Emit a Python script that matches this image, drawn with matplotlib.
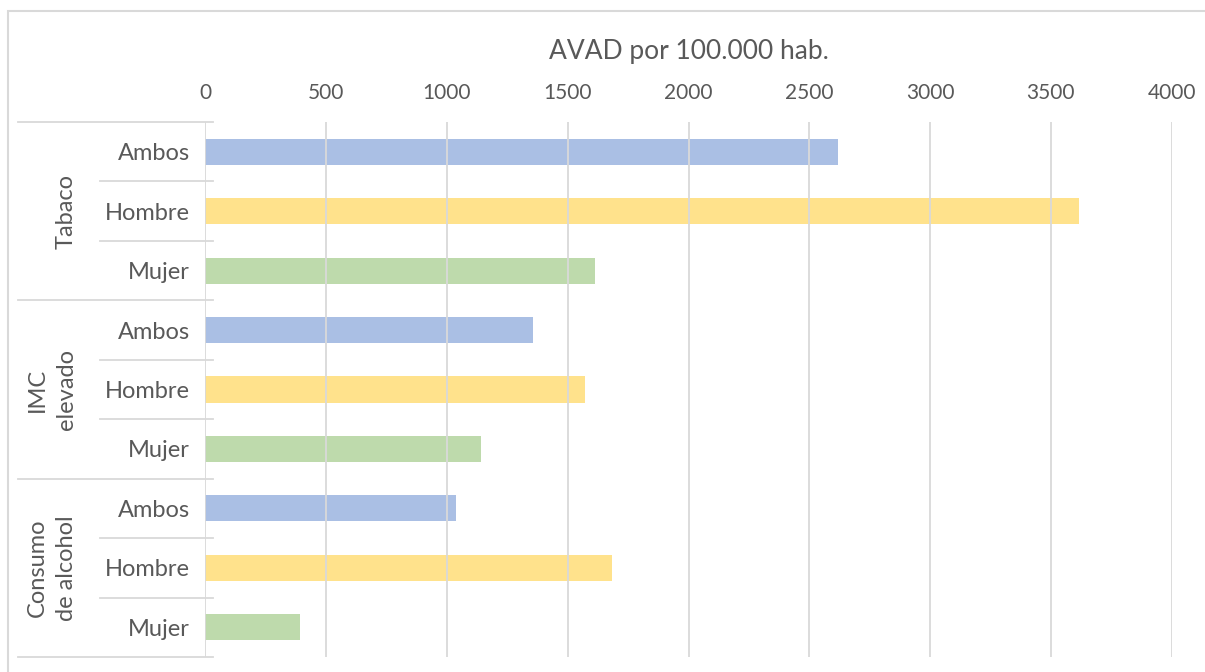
import matplotlib
matplotlib.use("Agg")
import matplotlib.pyplot as plt
import matplotlib.transforms as mtransforms
from matplotlib.lines import Line2D
from matplotlib.patches import Rectangle

plt.rcParams['font.family'] = ['Lato', 'DejaVu Sans']

groups = ["Tabaco", "IMC\nelevado", "Consumo\nde alcohol"]
sexes = ["Ambos", "Hombre", "Mujer"]
values = {
    "Tabaco": [2619, 3618, 1612],
    "IMC\nelevado": [1355, 1570, 1143],
    "Consumo\nde alcohol": [1038, 1683, 393],
}
colors = ["#4472C4", "#FFC000", "#70AD47"]
xticks = [0, 500, 1000, 1500, 2000, 2500, 3000, 3500, 4000]
xlabel = "AVAD por 100.000 hab."

W, H = 1205, 672
fig = plt.figure(figsize=(W / 100, H / 100), dpi=100)
left, right, top, bottom = 205.3, 1171.7, 122, 657
ax = fig.add_axes([left / W, 1 - bottom / H, (right - left) / W, (bottom - top) / H])

txt = "#595959"
grid = "#D9D9D9"

pos = 0
ylabels = []
for g in groups:
    for i, s in enumerate(sexes):
        ax.barh(pos, values[g][i], height=0.44, color=colors[i], alpha=0.45, zorder=1,
                linewidth=0)
        ylabels.append(s)
        pos += 1

n = pos
ax.set_ylim(n - 0.5, -0.5)
ax.set_xlim(0, 4000)
ax.set_xticks(xticks)
ax.set_xticklabels([str(v) for v in xticks])
ax.xaxis.tick_top()
ax.xaxis.set_label_position('top')
ax.set_xlabel(xlabel, fontsize=19, color=txt, labelpad=17)
ax.tick_params(axis='x', length=0, pad=14, labelsize=15, labelcolor=txt)
ax.set_yticks(range(n))
ax.set_yticklabels(ylabels)
ax.tick_params(axis='y', length=0, pad=11, labelsize=17, labelcolor=txt)
ax.grid(axis='x', color=grid, linewidth=1.3, zorder=2)
ax.set_axisbelow(False)
for sp in ax.spines.values():
    sp.set_visible(False)

# category separators
tr = mtransforms.blended_transform_factory(fig.transFigure, ax.transData)
for k in range(len(groups) + 1):
    y = k * 3 - 0.5
    fig.add_artist(Line2D([18 / W, 213 / W], [y, y], transform=tr, color=grid, linewidth=1.3))
for k in range(len(groups)):
    for j in (1, 2):
        y = k * 3 + j - 0.5
        fig.add_artist(Line2D([100 / W, 213 / W], [y, y], transform=tr, color=grid, linewidth=1.3))

# group labels
for k, g in enumerate(groups):
    xc = 66 if "\n" not in g else 52
    t = fig.text(xc / W, k * 3 + 1, g, transform=tr,
                 rotation=90, ha='center', va='center', fontsize=17, color=txt,
                 linespacing=1.45, multialignment='center')

# outer frame
fig.add_artist(Rectangle((8 / W, -0.1), 1.2, 1 - 11 / H + 0.1, transform=fig.transFigure,
                         fill=False, edgecolor=grid, linewidth=1.5))

fig.savefig("out.png", dpi=100)
